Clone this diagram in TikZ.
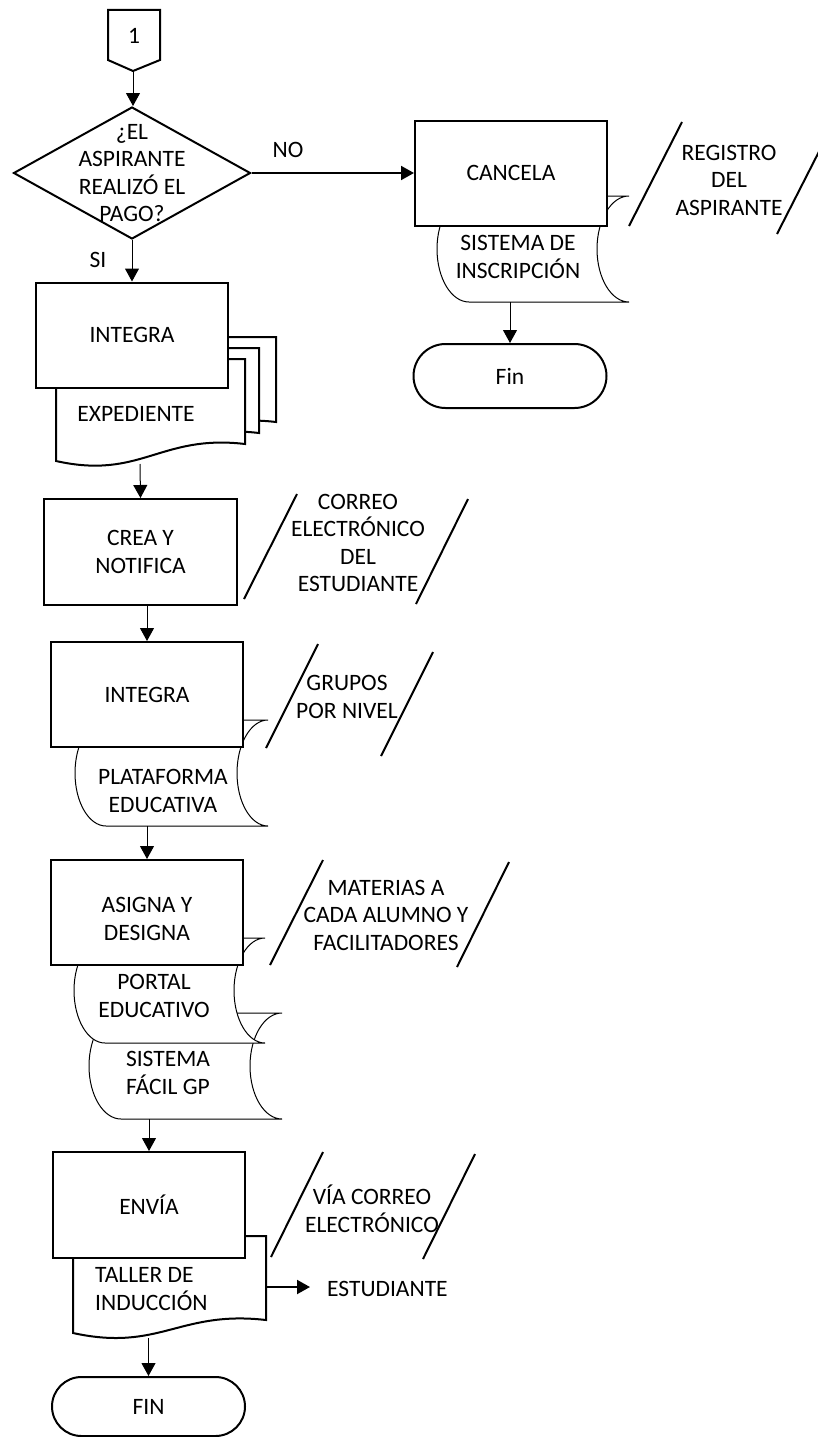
\documentclass[tikz,border=0pt]{standalone}
\usepackage{fontspec}
\setmainfont{Carlito}
\usetikzlibrary{arrows.meta,shapes.geometric}

\tikzset{
  x=1pt, y=-1pt,
  base/.style={font=\fontsize{23.5}{27.5}\selectfont, align=center, inner sep=0pt},
  box/.style={base, draw, line width=2pt, fill=white, minimum width=192pt, minimum height=105pt},
  term/.style={base, draw, line width=2pt, fill=white, minimum width=193pt},
  flow/.style={line width=1pt, -{Triangle[width=14pt,length=13pt]}},
  boldflow/.style={line width=2pt, -{Triangle[width=14pt,length=13pt]}},
  slash/.style={line width=2pt},
  thinshape/.style={line width=1pt, fill=white},
  thickshape/.style={line width=2pt, fill=white},
}

% stored-data symbol: left, top, right, bottom, arc depth
\newcommand\storedshape[5]{%
  \pgfmathsetmacro\sdM{(#2+#4)/2}%
  \pgfmathsetmacro\sdH{0.552*(#4-#2)/2}%
  \pgfmathsetmacro\sdK{0.552*#5}%
  \draw[thinshape] (#1+#5,#2) -- (#3,#2)
    .. controls (#3-\sdK,#2) and (#3-#5,\sdM-\sdH) .. (#3-#5,\sdM)
    .. controls (#3-#5,\sdM+\sdH) and (#3-\sdK,#4) .. (#3,#4)
    -- (#1+#5,#4)
    .. controls (#1+#5-\sdK,#4) and (#1,\sdM+\sdH) .. (#1,\sdM)
    .. controls (#1,\sdM-\sdH) and (#1+#5-\sdK,#2) .. (#1+#5,#2) -- cycle;}

% document symbol: left, top, right, bottom at right, bottom at left
\newcommand\docshape[5]{%
  \pgfmathsetmacro\dW{#3-#1}%
  \draw[thickshape] (#1,#2) -- (#3,#2) -- (#3,#4)
    .. controls (#1+0.55*\dW,#4-10) and (#1+0.45*\dW,#5+19) .. (#1,#5) -- cycle;}

\begin{document}
\begin{tikzpicture}
\useasboundingbox (0,0) rectangle (818,1437);

% ---------- off-page connector and decision ----------
\draw[line width=2pt] (108,10) -- (160,10) -- (160,60) -- (133,71) -- (108,60) -- cycle;
\node[base] (one) at (134,36) {1};
\coordinate (onetip) at (133,71);

\node[draw, diamond, line width=2pt, minimum width=237pt, minimum height=132pt, inner sep=0pt] (dec) at (132,173) {};
\node[base] (dectxt) at (132,173) {¿EL\\ASPIRANTE\\REALIZÓ EL\\PAGO?};
\draw[flow] (onetip) -- (onetip |- dec.north);

\node[base] (no) at (288,150) {NO};
\node[base] (si) at (98,260) {SI};

% ---------- NO branch ----------
\storedshape{437}{196}{629}{302}{32}
\node[base] (sistins) at (518,257) {SISTEMA DE\\INSCRIPCIÓN};
\node[box] (cancela) at (511,173) {CANCELA};
\draw[boldflow] (dec.east) -- (cancela.west);

\node[term, minimum height=64pt, rounded corners=32pt] (fin1) at (510,376) {Fin};
\coordinate (sistinsb) at (510,302);
\draw[flow] (sistinsb) -- (fin1.north);

\draw[slash] (629,226) -- (682,122);
\draw[slash] (777,234) -- (830,130);
\node[base] (registro) at (729,180) {REGISTRO\\DEL\\ASPIRANTE};

% ---------- INTEGRA / EXPEDIENTE ----------
\docshape{87}{337}{276}{422}{439}
\docshape{70}{348}{259}{433}{450}
\docshape{56}{359}{245}{444}{461}
\node[base] (expediente) at (136,414) {EXPEDIENTE};
\node[box] (integra1) at (132,335) {INTEGRA};
\draw[flow] (dec.south) -- (integra1.north);

% ---------- CREA Y NOTIFICA ----------
\node[box, minimum width=193pt, minimum height=106pt] (crea) at (140.5,552) {CREA Y\\NOTIFICA};
\coordinate (expb) at (140,464);
\draw[flow] (expb) -- (crea.north);

\draw[slash] (244,599) -- (297,494);
\draw[slash] (416,604) -- (468,499);
\node[base] (correo) at (358,543) {CORREO\\ELECTRÓNICO\\DEL\\ESTUDIANTE};

% ---------- INTEGRA / PLATAFORMA EDUCATIVA ----------
\storedshape{75}{720}{268}{826}{31}
\node[base] (plataforma) at (163,791) {PLATAFORMA\\EDUCATIVA};
\node[box] (integra2) at (147,694.5) {INTEGRA};
\draw[flow] (integra2.north |- crea.south) -- (integra2.north);

\draw[slash] (266,748) -- (318,644);
\draw[slash] (381,756) -- (433,652);
\node[base] (grupos) at (347,697) {GRUPOS\\POR NIVEL};

% ---------- ASIGNA Y DESIGNA ----------
\storedshape{89}{1013}{282}{1119}{32}
\node[base] (facil) at (168,1073) {SISTEMA\\FÁCIL GP};
\storedshape{74}{938}{265}{1043}{31}
\node[base] (portal) at (154,996) {PORTAL\\EDUCATIVO};
\node[box] (asigna) at (147,912.5) {};
\node[base] (asignatxt) at (147,919) {ASIGNA Y\\DESIGNA};
\coordinate (platb) at (147,826);
\draw[flow] (platb) -- (asigna.north);

\draw[slash] (270,965) -- (323,860);
\draw[slash] (457,967) -- (509,862);
\node[base] (materias) at (386,915) {MATERIAS A\\CADA ALUMNO Y\\FACILITADORES};

% ---------- ENVÍA / TALLER DE INDUCCIÓN ----------
\docshape{73}{1236}{266}{1320}{1333}
\node[base, align=left, anchor=west] (taller) at (95,1289) {TALLER DE\\INDUCCIÓN};
\node[box, minimum width=192pt, minimum height=106pt] (envia) at (149,1205) {ENVÍA};
\coordinate (facilb) at (149,1119);
\draw[flow] (facilb) -- (envia.north);

\draw[slash] (271,1257) -- (323,1152);
\draw[slash] (423,1259) -- (475,1154);
\node[base] (via) at (372,1209) {VÍA CORREO\\ELECTRÓNICO};

\node[base, anchor=west] (estudiante) at (327,1289) {ESTUDIANTE};
\coordinate (tallerr) at (266,1287);
\draw[boldflow] (tallerr) -- ([xshift=-17pt]estudiante.west |- tallerr);

% ---------- end ----------
\node[term, minimum height=59pt, rounded corners=29.5pt] (fin2) at (148.5,1406.5) {FIN};
\coordinate (tallerb) at (148.5,1338);
\draw[flow] (tallerb) -- (fin2.north);
\end{tikzpicture}
\end{document}
